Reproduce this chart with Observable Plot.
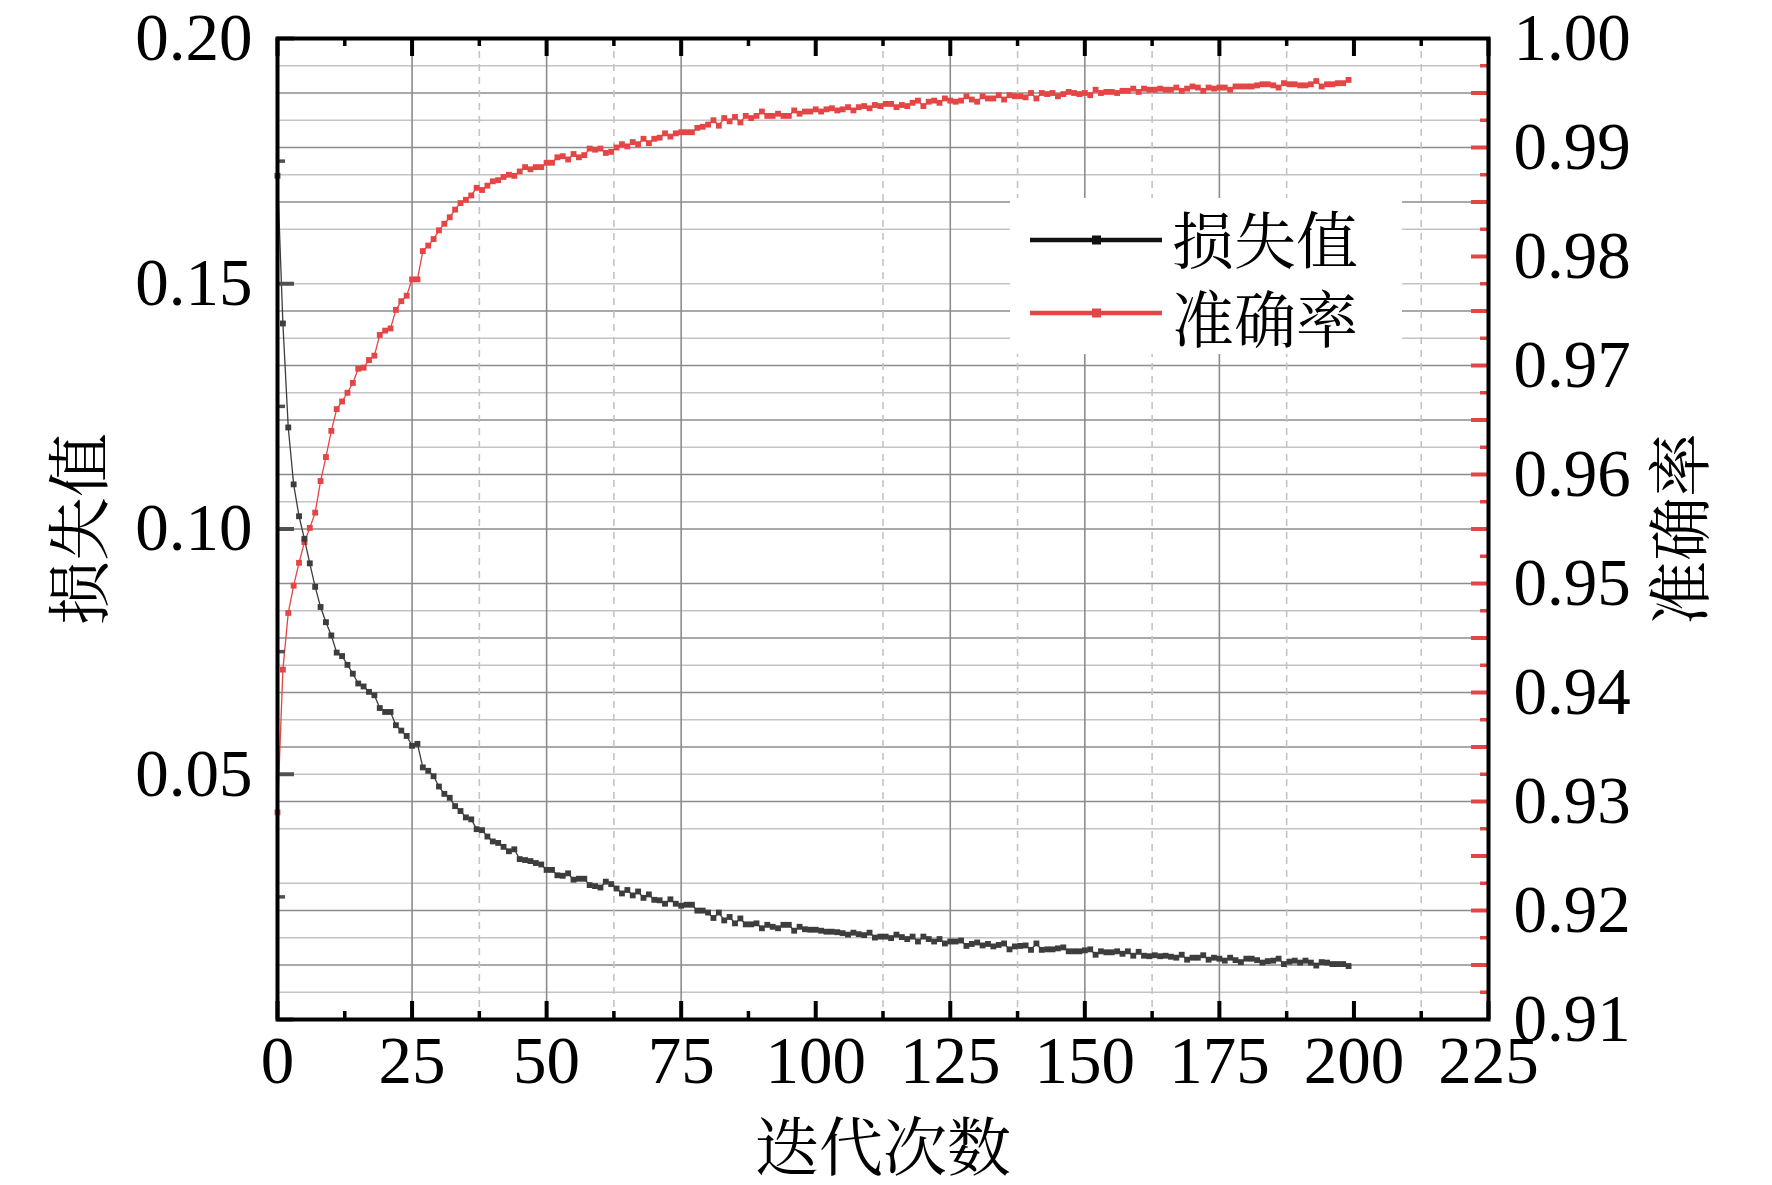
<!DOCTYPE html>
<html>
<head>
<meta charset="utf-8">
<script src="https://cdn.jsdelivr.net/npm/d3@7"></script>
<script src="https://cdn.jsdelivr.net/npm/@observablehq/plot@0.6"></script>
<style>
  html, body { margin: 0; padding: 0; background: #fff; }
  #wrap { position: relative; width: 1772px; height: 1185px; overflow: hidden; }
  #wrap > svg { position: absolute; left: 0; top: 0; }
  #legend { position: absolute; left: 1010px; top: 198px; width: 392px; height: 156px; background: #fff; }
  #legend svg { overflow: visible; }
</style>
</head>
<body>
<div id="wrap"><div id="legend"></div></div>
<script>
// ---------- data ----------
const iterations = d3.range(0, 200);
const lossValues = [
0.172,0.1419,0.1207,0.1091,0.1026,0.0980,0.0930,0.0882,0.0841,0.0810,
0.0783,0.0748,0.0741,0.0723,0.0705,0.0685,0.0679,0.0668,0.0661,0.0635,
0.0627,0.0627,0.0600,0.0589,0.0578,0.0558,0.0562,0.0514,0.0507,0.0496,
0.0475,0.0460,0.0452,0.0435,0.0425,0.0412,0.0408,0.0388,0.0386,0.0373,
0.0363,0.0360,0.0352,0.0343,0.0347,0.0327,0.0325,0.0323,0.0319,0.0316,
0.0305,0.0305,0.0294,0.0293,0.0298,0.0285,0.0287,0.0287,0.0274,0.0272,
0.0269,0.0281,0.0276,0.0267,0.0257,0.0264,0.0253,0.0261,0.0248,0.0255,
0.0244,0.0243,0.0236,0.0245,0.0236,0.0232,0.0234,0.0234,0.0222,0.0222,
0.0218,0.0207,0.0218,0.0202,0.0209,0.0196,0.0206,0.0194,0.0194,0.0196,
0.0186,0.0193,0.0189,0.0186,0.0193,0.0193,0.0181,0.0189,0.0184,0.0183,
0.0183,0.0181,0.0179,0.0179,0.0178,0.0176,0.0173,0.0177,0.0174,0.0172,
0.0177,0.0167,0.0169,0.0169,0.0166,0.0173,0.0168,0.0164,0.0169,0.0159,
0.0169,0.0164,0.0159,0.0164,0.0155,0.0159,0.0159,0.0161,0.0150,0.0154,
0.0157,0.0151,0.0154,0.0149,0.0152,0.0155,0.0143,0.0149,0.0150,0.0151,
0.0142,0.0155,0.0142,0.0143,0.0143,0.0145,0.0147,0.0139,0.0139,0.0139,
0.0141,0.0143,0.0132,0.0139,0.0137,0.0137,0.0139,0.0134,0.0139,0.0130,
0.0138,0.0130,0.0129,0.0131,0.0129,0.0130,0.0128,0.0126,0.0132,0.0122,
0.0126,0.0126,0.0131,0.0122,0.0126,0.0124,0.0120,0.0126,0.0121,0.0117,
0.0124,0.0124,0.0121,0.0116,0.0119,0.0120,0.0124,0.0113,0.0118,0.0120,
0.0116,0.0120,0.0116,0.0110,0.0117,0.0116,0.0113,0.0113,0.0113,0.0109
];
const accValues = [
0.929,0.9421,0.9473,0.9498,0.9519,0.9538,0.9551,0.9565,0.9594,0.9616,
0.9640,0.9660,0.9667,0.9675,0.9684,0.9697,0.9698,0.9705,0.9709,0.9728,
0.9732,0.9734,0.9751,0.9759,0.9764,0.9779,0.9779,0.9805,0.9810,0.9816,
0.9824,0.9830,0.9836,0.9843,0.9849,0.9852,0.9856,0.9863,0.9861,0.9865,
0.9869,0.9870,0.9873,0.9875,0.9874,0.9878,0.9882,0.9880,0.9882,0.9882,
0.9886,0.9886,0.9891,0.9892,0.9889,0.9894,0.9891,0.9893,0.9899,0.9898,
0.9899,0.9895,0.9896,0.9900,0.9903,0.9901,0.9905,0.9903,0.9908,0.9904,
0.9908,0.9909,0.9913,0.9910,0.9913,0.9914,0.9914,0.9914,0.9918,0.9919,
0.9921,0.9925,0.9920,0.9927,0.9924,0.9928,0.9923,0.9929,0.9927,0.9929,
0.9933,0.9929,0.9929,0.9931,0.9929,0.9929,0.9934,0.9931,0.9933,0.9933,
0.9935,0.9933,0.9935,0.9936,0.9934,0.9935,0.9937,0.9934,0.9937,0.9938,
0.9936,0.9939,0.9938,0.9940,0.9940,0.9937,0.9939,0.9938,0.9941,0.9943,
0.9938,0.9942,0.9943,0.9941,0.9945,0.9943,0.9942,0.9943,0.9947,0.9944,
0.9942,0.9947,0.9945,0.9945,0.9948,0.9944,0.9948,0.9947,0.9947,0.9946,
0.9950,0.9945,0.9950,0.9949,0.9950,0.9947,0.9949,0.9951,0.9950,0.9949,
0.9950,0.9948,0.9953,0.9950,0.9951,0.9951,0.9950,0.9952,0.9952,0.9954,
0.9951,0.9954,0.9953,0.9953,0.9954,0.9953,0.9953,0.9955,0.9952,0.9954,
0.9956,0.9955,0.9952,0.9955,0.9954,0.9955,0.9955,0.9953,0.9956,0.9956,
0.9956,0.9956,0.9957,0.9958,0.9958,0.9957,0.9955,0.9959,0.9958,0.9958,
0.9957,0.9957,0.9958,0.9961,0.9956,0.9958,0.9958,0.9959,0.9959,0.9962
];

// tick values
const xMajorTicks = [0, 25, 50, 75, 100, 125, 150, 175, 200, 225];
const xMinorTicks = [12.5, 37.5, 62.5, 87.5, 112.5, 137.5, 162.5, 187.5, 212.5];
const lossLabelTicks = [0.05, 0.10, 0.15, 0.20];
const lossMajorTicks = [0, 0.05, 0.10, 0.15, 0.20];
const lossMinorTicks = [0.025, 0.075, 0.125, 0.175];
const accLabelTicks = [0.91, 0.92, 0.93, 0.94, 0.95, 0.96, 0.97, 0.98, 0.99, 1.00];
const accMajorTicks = [0.915, 0.92, 0.925, 0.93, 0.935, 0.94, 0.945, 0.95, 0.955, 0.96, 0.965, 0.97, 0.975, 0.98, 0.985, 0.99, 0.995];
const accMinorTicks = [0.9125, 0.9175, 0.9225, 0.9275, 0.9325, 0.9375, 0.9425, 0.9475, 0.9525, 0.9575, 0.9625, 0.9675, 0.9725, 0.9775, 0.9825, 0.9875, 0.9925, 0.9975];

// grid lines that are visible in the reference
const xMajorGrid = [25, 50, 75, 125, 150, 175];
const xMinorGrid = [37.5, 62.5, 112.5, 137.5, 162.5, 187.5, 212.5];
const accMajorGrid = [0.915, 0.92, 0.93, 0.935, 0.94, 0.945, 0.95, 0.955, 0.96, 0.965, 0.97, 0.975, 0.985, 0.99, 0.995];
const accMinorGrid = [0.9125, 0.9175, 0.9225, 0.9275, 0.9325, 0.9375, 0.9425, 0.9475, 0.9575, 0.9625, 0.9675, 0.9725, 0.9775, 0.9825, 0.9875, 0.9925, 0.9975];

const seriesNames = ["损失值", "准确率"];
const xTitle = "迭代次数";

const lossData = iterations.map((it, i) => ({iter: it, value: lossValues[i]}));
const accData = iterations.map((it, i) => ({iter: it, value: accValues[i]}));

// ---------- layout ----------
const W = 1772, H = 1185;
const M = {top: 38, right: 284, bottom: 166, left: 277};
const PW = W - M.left - M.right, PH = H - M.top - M.bottom;
const RED = "#e54545", DARK = "#3d3d3d";
const NUM_FONT = "'Liberation Serif', 'Times New Roman', serif";
const CJK_FONT = "'Noto Serif CJK SC', 'Noto Sans CJK SC', sans-serif";

const common = {
  width: W, height: H,
  marginTop: M.top, marginRight: M.right, marginBottom: M.bottom, marginLeft: M.left,
  x: {domain: [0, 225], axis: null},
  style: {background: "transparent", fontFamily: NUM_FONT, color: "#000", overflow: "visible"}
};

// Layer A: grid + accuracy (right axis)
const plotA = Plot.plot({
  ...common,
  y: {domain: [0.91, 1.0], axis: null},
  marks: [
    Plot.ruleY(accMinorGrid, {stroke: "#c4c4c4", strokeWidth: 1.6}),
    Plot.ruleY(accMajorGrid, {stroke: "#8c8c8c", strokeWidth: 1.6}),
    Plot.ruleX(xMinorGrid, {stroke: "#c4c4c4", strokeWidth: 1.6, strokeDasharray: "7,6"}),
    Plot.ruleX(xMajorGrid, {stroke: "#8c8c8c", strokeWidth: 1.6}),
    Plot.line(accData, {x: "iter", y: "value", stroke: RED, strokeWidth: 1.3}),
    Plot.dot(accData, {x: "iter", y: "value", symbol: "square", r: 3.3, fill: RED, stroke: "none"}),
    Plot.tickY(accMajorTicks, {stroke: RED, strokeWidth: 4, insetLeft: PW - 17}),
    Plot.tickY(accMinorTicks, {stroke: RED, strokeWidth: 3.5, insetLeft: PW - 8}),
    Plot.axisY(accLabelTicks, {anchor: "right", tickSize: 0, tickPadding: 25, tickFormat: d3.format(".2f"),
      fontSize: 67, fill: "#000", label: null}),
    Plot.text([seriesNames[1]], {frameAnchor: "right", dx: 194, rotate: -90, text: d => d,
      textAnchor: "middle", lineAnchor: "middle",
      fontSize: 64, fontFamily: CJK_FONT, fill: "#000"})
  ]
});

// Layer B: loss (left axis), x axis, frame
const plotB = Plot.plot({
  ...common,
  y: {domain: [0, 0.2], axis: null},
  marks: [
    Plot.line(lossData, {x: "iter", y: "value", stroke: DARK, strokeWidth: 1.3}),
    Plot.dot(lossData, {x: "iter", y: "value", symbol: "square", r: 3.3, fill: DARK, stroke: "none"}),
    Plot.tickY(lossMajorTicks, {stroke: "#505050", strokeWidth: 4, insetRight: PW - 17}),
    Plot.tickY(lossMinorTicks, {stroke: "#505050", strokeWidth: 3.5, insetRight: PW - 8}),
    Plot.tickX(xMajorTicks, {stroke: "#000", strokeWidth: 4, insetTop: PH - 18}),
    Plot.tickX(xMinorTicks, {stroke: "#000", strokeWidth: 3.5, insetTop: PH - 8}),
    Plot.tickX(xMajorTicks, {stroke: "#000", strokeWidth: 4, insetBottom: PH - 18}),
    Plot.tickX(xMinorTicks, {stroke: "#000", strokeWidth: 3.5, insetBottom: PH - 8}),
    Plot.frame({stroke: "#000", strokeWidth: 4}),
    Plot.axisY(lossLabelTicks, {anchor: "left", tickSize: 0, tickPadding: 25, tickFormat: d3.format(".2f"),
      fontSize: 67, fill: "#000", label: null}),
    Plot.axisX(xMajorTicks, {anchor: "bottom", tickSize: 0, tickPadding: 16, tickFormat: d3.format("d"),
      fontSize: 67, fill: "#000", label: null}),
    Plot.text([seriesNames[0]], {frameAnchor: "left", dx: -196, rotate: -90, text: d => d,
      textAnchor: "middle", lineAnchor: "middle",
      fontSize: 64, fontFamily: CJK_FONT, fill: "#000"}),
    Plot.text([xTitle], {frameAnchor: "bottom", dy: 130, text: d => d,
      textAnchor: "middle", lineAnchor: "middle",
      fontSize: 64, fontFamily: CJK_FONT, fill: "#000"})
  ]
});

const wrap = document.getElementById("wrap");
const legendDiv = document.getElementById("legend");
wrap.insertBefore(plotA, legendDiv);
wrap.insertBefore(plotB, legendDiv);

// ---------- legend ----------
const lg = d3.select(legendDiv).append("svg").attr("width", 392).attr("height", 156);
const legendRows = [
  {name: seriesNames[0], color: "#111", y: 42, ty: 39},
  {name: seriesNames[1], color: RED, y: 115, ty: 118}
];
legendRows.forEach(r => {
  lg.append("line").attr("x1", 20).attr("x2", 152).attr("y1", r.y).attr("y2", r.y)
    .attr("stroke", r.color).attr("stroke-width", 4.5);
  lg.append("rect").attr("x", 82).attr("y", r.y - 4.5).attr("width", 9).attr("height", 9).attr("fill", r.color);
  lg.append("text").attr("x", 162).attr("y", r.ty).attr("dominant-baseline", "central")
    .attr("font-family", CJK_FONT).attr("font-size", 62).attr("fill", "#000").text(r.name);
});
</script>
</body>
</html>
